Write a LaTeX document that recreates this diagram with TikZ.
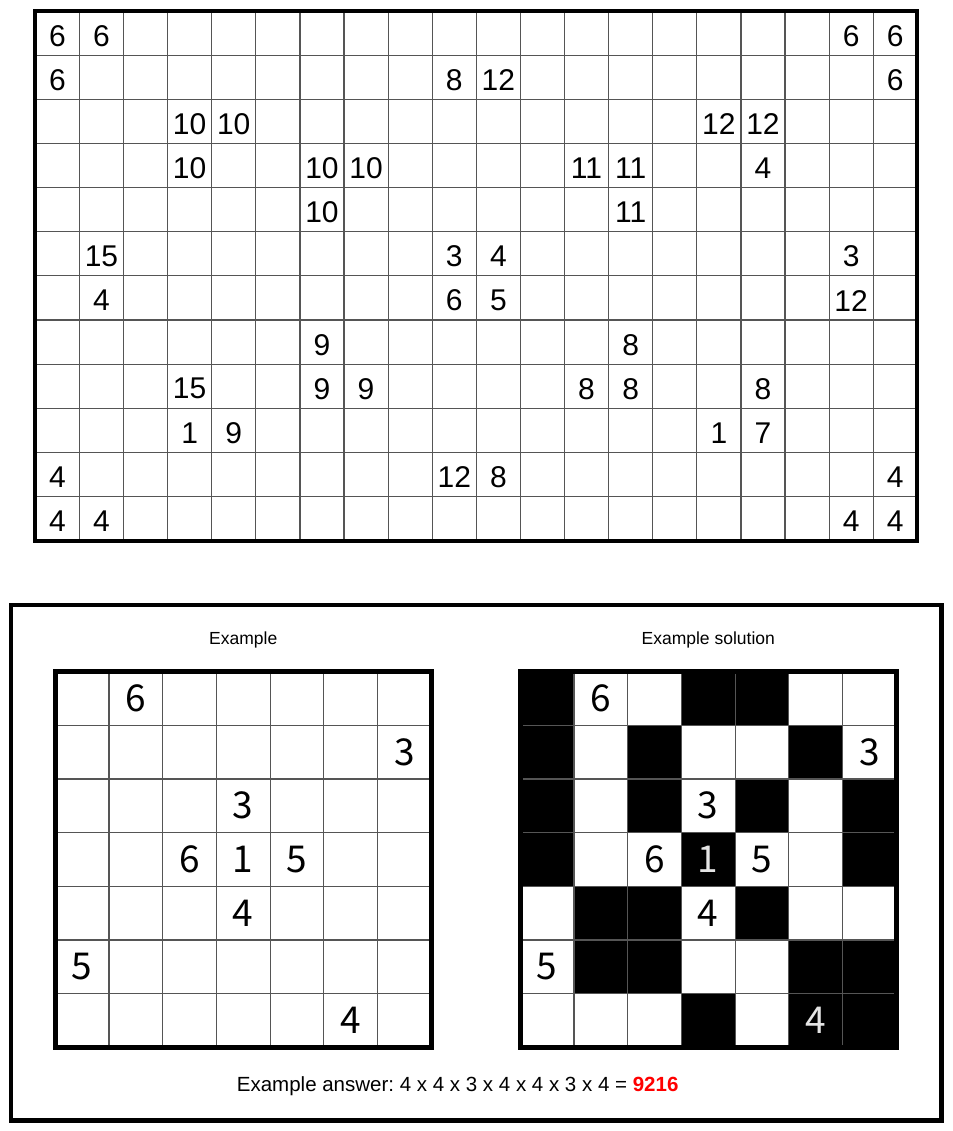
\documentclass[tikz,border=0pt]{standalone}
\usepackage{xcolor}
\usepackage{fontspec}
\setmainfont{Liberation Sans}
\newfontfamily\exfont{Noto Sans CJK JP}
\usetikzlibrary{positioning,calc}
\frenchspacing

\definecolor{gridgray}{HTML}{555555}
\definecolor{lightclue}{HTML}{E4E4E4}
\definecolor{answerred}{HTML}{FF0000}

\tikzset{
  gridline/.style={draw=gridgray, line width=1.2pt},
  clue/.style={inner sep=0pt, font=\fontsize{30}{30}\selectfont},
  exclue/.style={inner sep=0pt, font=\exfont\fontsize{37}{37}\selectfont},
  title/.style={inner sep=0pt, anchor=base, font=\fontsize{17.5}{17.5}\selectfont},
}

\begin{document}
\begin{tikzpicture}[x=1pt, y=-1pt]
        \useasboundingbox (0,0) rectangle (952,1131);

        % Puzzle
        \begin{scope}[shift={(35.3,11.3)}, x=44.1pt, y=-44.1pt]
            \foreach \i in {1,...,19} \draw[gridline] (\i,0) -- (\i,12);
            \foreach \j in {1,...,11} \draw[gridline] (0,\j) -- (20,\j);
            \draw[line width=4pt] (0,0) rectangle (20,12);
            \foreach \c/\r/\v in {0/0/6, 1/0/6, 18/0/6, 19/0/6,
                0/1/6, 9/1/8, 10/1/12, 19/1/6,
                3/2/10, 4/2/10, 15/2/12, 16/2/12,
                3/3/10, 6/3/10, 7/3/10, 12/3/11, 13/3/11, 16/3/4,
                6/4/10, 13/4/11,
                1/5/15, 9/5/3, 10/5/4, 18/5/3,
                1/6/4, 9/6/6, 10/6/5, 18/6/12,
                6/7/9, 13/7/8,
                3/8/15, 6/8/9, 7/8/9, 12/8/8, 13/8/8, 16/8/8,
                3/9/1, 4/9/9, 15/9/1, 16/9/7,
                0/10/4, 9/10/12, 10/10/8, 19/10/4,
                0/11/4, 1/11/4, 18/11/4, 19/11/4}
                \node[clue] (p-\r-\c) at (\c+0.5,\r+0.56) {\v};
        \end{scope}

        % Example box
        \draw[line width=4.5pt] (10.8,605) rectangle (941.3,1120.3);

        % Example grid
        \begin{scope}[shift={(55.3,671.5)}, x=53.7pt, y=-53.7pt]
            \foreach \i in {1,...,6} {
                \draw[gridline] (\i,0) -- (\i,7);
                \draw[gridline] (0,\i) -- (7,\i);
            }
            \draw[line width=5pt] (0,0) rectangle (7,7);
            \node[title] (ex-title) at (3.5,-0.51) {Example};
            \foreach \c/\r/\v in {1/0/6, 6/1/3, 3/2/3, 2/3/6, 3/3/1, 4/3/5, 3/4/4, 0/5/5, 5/6/4}
                \node[exclue] (e-\r-\c) at (\c+0.5,\r+0.5) {\v};
        \end{scope}

        % Example solution
        \begin{scope}[shift={(520.3,671.5)}, x=53.7pt, y=-53.7pt]
            \foreach \c/\r in {0/0, 3/0, 4/0, 0/1, 2/1, 5/1, 0/2, 2/2, 4/2, 6/2,
                0/3, 3/3, 6/3, 1/4, 2/4, 4/4, 1/5, 2/5, 5/5, 6/5, 3/6, 5/6, 6/6}
                \fill (\c,\r) rectangle ++(1,1);
            \foreach \i in {1,...,6} {
                \draw[gridline] (\i,0) -- (\i,7);
                \draw[gridline] (0,\i) -- (7,\i);
            }
            \draw[line width=5pt] (0,0) rectangle (7,7);
            \node[title] (sol-title) at (3.5,-0.51) {Example solution};
            \foreach \c/\r/\v in {1/0/6, 6/1/3, 3/2/3, 2/3/6, 4/3/5, 3/4/4, 0/5/5}
                \node[exclue] (s-\r-\c) at (\c+0.5,\r+0.5) {\v};
            \node[exclue, text=lightclue] (s-3-3) at (3.5,3.5) {1};
            \node[exclue, text=lightclue] (s-6-5) at (5.5,6.5) {4};
        \end{scope}

        % Answer
        \node[inner sep=0pt, anchor=base west, font=\fontsize{20.5}{20.5}\selectfont] (answer) at (236.7,1091)
            {Example answer: 4 x 4 x 3 x 4 x 4 x 3 x 4 = \textbf{\color{answerred}9216}};
    \end{tikzpicture}
\end{document}
